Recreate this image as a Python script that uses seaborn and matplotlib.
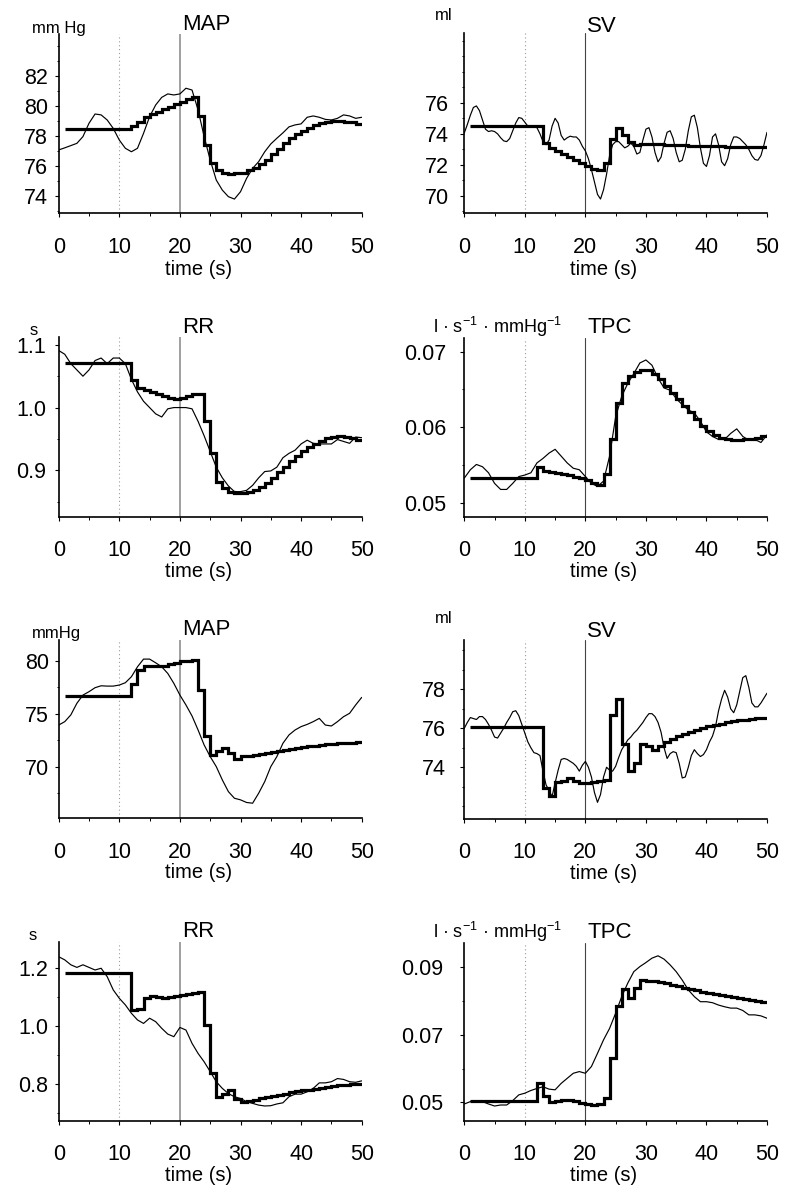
import numpy as np
import pandas as pd
import seaborn as sns
import matplotlib
matplotlib.use("Agg")
import matplotlib.pyplot as plt
from matplotlib.ticker import MultipleLocator, FixedLocator, FormatStrFormatter

# ---- data ----
t_coarse = np.arange(0, 51, 1.0)      # thin (measured) curves, 1 s
t_fine = np.arange(0, 50.5, 0.5)      # thin SV curves, 0.5 s
t_beats = np.arange(1, 51)            # beat-to-beat model output (step line)

map1_meas = [77.06, 77.2, 77.35, 77.5, 77.95, 78.84, 79.46, 79.4, 79.06, 78.5,
             77.72, 77.17, 76.94, 77.17, 78.17, 79.28, 80.06, 80.57, 80.8, 80.73,
             80.8, 81.18, 81.06, 79.73, 77.95, 76.39, 75.05, 74.38, 73.94, 73.78,
             74.27, 75.16, 75.83, 76.28, 76.94, 77.46, 77.84, 78.2, 78.6, 78.73,
             78.8, 79.24, 79.33, 79.24, 79.1, 79.06, 79.17, 79.4, 79.33, 79.17, 79.24]
map1_model = [78.44, 78.44, 78.44, 78.44, 78.44, 78.44, 78.44, 78.44, 78.44, 78.44,
              78.44, 78.66, 78.95, 79.24, 79.46, 79.6, 79.77, 79.95, 80.13, 80.28,
              80.49, 80.62, 79.3, 77.4, 76.2, 75.7, 75.5, 75.45, 75.5, 75.55,
              75.7, 75.85, 76.1, 76.4, 76.8, 77.15, 77.5, 77.85, 78.1, 78.35,
              78.55, 78.7, 78.85, 78.95, 79.0, 79.0, 78.95, 78.9, 78.8]

sv1_meas = [74.06, 74.6, 75.2, 75.7, 75.8, 75.5, 74.9, 74.3, 74.15, 74.2,
            74.15, 74.0, 73.75, 73.55, 73.5, 73.7, 74.2, 74.7, 75.05, 75.0,
            74.75, 74.5, 74.45, 74.45, 74.4, 74.0, 73.5, 73.3, 73.6, 74.5,
            75.0, 74.7, 73.9, 73.6, 73.75, 73.85, 73.8, 73.8, 73.6, 73.2,
            72.9, 72.4, 71.7, 70.9, 70.1, 69.8, 70.4, 71.4, 72.6, 73.3,
            73.5, 73.5, 73.3, 73.1, 73.2, 73.4, 73.2, 72.7, 72.8, 73.6,
            74.3, 74.4, 73.8, 72.8, 72.2, 72.5, 73.4, 74.1, 74.2, 73.7,
            72.8, 72.2, 72.3, 73.0, 74.2, 75.1, 75.2, 74.4, 73.1, 72.1,
            71.9, 72.6, 73.8, 74.0, 73.3, 72.2, 71.95, 72.4, 73.3, 73.8,
            73.8, 73.7, 73.5, 73.3, 73.0, 72.6, 72.35, 72.3, 72.6, 73.3,
            74.1]
sv1_model = [74.53, 74.53, 74.53, 74.53, 74.53, 74.53, 74.53, 74.53, 74.53, 74.53,
             74.53, 74.53, 73.4, 73.1, 72.9, 72.7, 72.5, 72.3, 72.1, 71.95,
             71.75, 71.7, 72.1, 73.7, 74.4, 73.95, 73.5, 73.3, 73.35, 73.35,
             73.35, 73.32, 73.3, 73.3, 73.28, 73.27, 73.25, 73.24, 73.22, 73.2,
             73.2, 73.19, 73.18, 73.17, 73.16, 73.15, 73.15, 73.15, 73.15]

rr1_meas = [1.091, 1.085, 1.07, 1.06, 1.05, 1.06, 1.075, 1.079, 1.07, 1.079,
            1.079, 1.07, 1.045, 1.025, 1.01, 1.0, 0.99, 0.985, 0.998, 1.0,
            1.0, 1.0, 0.998, 0.978, 0.955, 0.93, 0.905, 0.888, 0.875, 0.866,
            0.866, 0.868, 0.876, 0.888, 0.898, 0.899, 0.905, 0.92, 0.927, 0.932,
            0.942, 0.948, 0.943, 0.942, 0.942, 0.942, 0.949, 0.946, 0.943, 0.953, 0.952]
rr1_model = [1.0707, 1.0707, 1.0707, 1.0707, 1.0707, 1.0707, 1.0707, 1.0707, 1.0707, 1.0707,
             1.0707, 1.044, 1.032, 1.028, 1.025, 1.022, 1.019, 1.016, 1.014, 1.015,
             1.018, 1.021, 1.022, 0.978, 0.928, 0.882, 0.871, 0.866, 0.864, 0.864,
             0.866, 0.869, 0.874, 0.880, 0.888, 0.897, 0.906, 0.915, 0.923, 0.930,
             0.937, 0.942, 0.947, 0.951, 0.953, 0.954, 0.953, 0.951, 0.948]

tpc1_meas = [0.0533, 0.0544, 0.0551, 0.0548, 0.054, 0.0526, 0.0518, 0.0518, 0.0526, 0.0535,
             0.0537, 0.054, 0.0553, 0.0559, 0.0566, 0.0571, 0.0562, 0.0553, 0.0546, 0.0544,
             0.0535, 0.0526, 0.0522, 0.0529, 0.0562, 0.0614, 0.0641, 0.0658, 0.0671, 0.0685,
             0.0689, 0.0682, 0.0665, 0.0652, 0.0649, 0.0638, 0.063, 0.0623, 0.0619, 0.0608,
             0.0594, 0.0588, 0.0584, 0.0584, 0.0592, 0.0598, 0.0588, 0.0583, 0.0584, 0.058, 0.059]
tpc1_model = [0.0533, 0.0533, 0.0533, 0.0533, 0.0533, 0.0533, 0.0533, 0.0533, 0.0533, 0.0533,
              0.0533, 0.0547, 0.0542, 0.0541, 0.054, 0.0538, 0.0537, 0.0535, 0.0533, 0.0531,
              0.0527, 0.0524, 0.0538, 0.0585, 0.0632, 0.0658, 0.0668, 0.0673, 0.0676, 0.0676,
              0.0671, 0.0664, 0.0655, 0.0646, 0.0637, 0.0628, 0.062, 0.0611, 0.0602, 0.0595,
              0.059, 0.0586, 0.0584, 0.0583, 0.0583, 0.0584, 0.0585, 0.0586, 0.0588]

map2_meas = [73.94, 74.26, 74.9, 76.0, 76.78, 77.1, 77.48, 77.66, 77.63, 77.63,
             77.73, 77.95, 78.52, 79.46, 80.19, 80.19, 79.84, 79.46, 78.83, 77.89,
             76.78, 75.84, 74.8, 73.47, 72.05, 70.95, 70.0, 68.74, 67.63, 67.0,
             66.85, 66.6, 66.53, 67.48, 68.58, 70.0, 70.95, 72.21, 73.0, 73.47,
             73.79, 74.0, 74.26, 74.57, 73.94, 73.85, 74.26, 74.73, 75.05, 75.84, 76.56]
map2_model = [76.69, 76.69, 76.69, 76.69, 76.69, 76.69, 76.69, 76.69, 76.69, 76.69,
              76.69, 77.8, 79.2, 79.55, 79.5, 79.5, 79.55, 79.7, 79.85, 80.0,
              80.05, 80.1, 77.3, 72.9, 71.1, 71.5, 71.8, 71.3, 70.75, 71.0,
              71.05, 71.1, 71.2, 71.3, 71.4, 71.5, 71.6, 71.68, 71.76, 71.84,
              71.92, 71.98, 72.04, 72.1, 72.15, 72.19, 72.23, 72.26, 72.3]

sv2_meas = [76.0, 76.3, 76.55, 76.5, 76.45, 76.6, 76.6, 76.45, 76.2, 75.9,
            75.55, 75.5, 75.75, 76.0, 76.3, 76.55, 76.85, 76.9, 76.65, 76.2,
            75.75, 75.3, 75.0, 74.75, 74.7, 74.6, 73.8, 73.1, 72.8, 72.5,
            73.2, 73.85, 74.4, 74.45, 74.4, 74.3, 74.2, 74.05, 73.8, 74.1,
            74.3, 74.0, 73.5, 72.7, 72.2, 72.6, 73.5, 74.0, 73.85, 73.8,
            74.05, 74.5, 74.9, 75.15, 75.4, 75.55, 75.75, 75.9, 76.1, 76.3,
            76.55, 76.75, 76.75, 76.6, 76.3, 75.8, 75.0, 74.45, 74.7, 74.8,
            74.75, 74.2, 73.45, 73.5, 74.0, 74.6, 74.9, 74.7, 74.55, 74.65,
            74.9, 75.3, 75.6, 76.1, 76.9, 77.5, 77.95, 77.6, 77.0, 76.8,
            77.2, 77.9, 78.6, 78.7, 78.1, 77.3, 77.1, 77.1, 77.3, 77.55,
            77.8]
sv2_model = [76.05, 76.05, 76.05, 76.05, 76.05, 76.05, 76.05, 76.05, 76.05, 76.05,
             76.05, 76.05, 72.95, 72.55, 73.25, 73.3, 73.45, 73.3, 73.2, 73.2,
             73.25, 73.3, 73.35, 76.7, 77.5, 75.2, 73.8, 74.2, 75.2, 75.1,
             74.9, 75.1, 75.3, 75.45, 75.6, 75.72, 75.83, 75.93, 76.02, 76.1,
             76.17, 76.24, 76.3, 76.35, 76.4, 76.44, 76.48, 76.52, 76.55]

rr2_meas = [1.24, 1.229, 1.212, 1.203, 1.212, 1.203, 1.194, 1.2, 1.171, 1.125,
            1.096, 1.073, 1.044, 1.021, 1.009, 1.027, 1.015, 0.992, 0.972, 0.963,
            0.995, 0.986, 0.94, 0.905, 0.876, 0.842, 0.807, 0.784, 0.766, 0.755,
            0.749, 0.738, 0.732, 0.726, 0.723, 0.724, 0.73, 0.734, 0.755, 0.764,
            0.764, 0.772, 0.784, 0.803, 0.803, 0.807, 0.818, 0.815, 0.807, 0.805, 0.81]
rr2_model = [1.183, 1.183, 1.183, 1.183, 1.183, 1.183, 1.183, 1.183, 1.183, 1.183,
             1.183, 1.055, 1.058, 1.098, 1.104, 1.1, 1.097, 1.1, 1.104, 1.108,
             1.111, 1.116, 1.119, 1.003, 0.836, 0.755, 0.765, 0.777, 0.748, 0.738,
             0.741, 0.745, 0.75, 0.754, 0.758, 0.762, 0.766, 0.77, 0.774, 0.777,
             0.78, 0.783, 0.786, 0.789, 0.791, 0.794, 0.796, 0.798, 0.8]

tpc2_meas = [0.0495, 0.0502, 0.0505, 0.0502, 0.0495, 0.0489, 0.0492, 0.0492, 0.0505, 0.0522,
             0.0527, 0.0535, 0.0541, 0.0546, 0.0539, 0.0537, 0.0556, 0.0571, 0.0586, 0.0591,
             0.0586, 0.0606, 0.0645, 0.0685, 0.0719, 0.0764, 0.0813, 0.0853, 0.0887, 0.0902,
             0.0914, 0.0927, 0.0934, 0.0924, 0.0907, 0.0887, 0.0862, 0.0833, 0.0813, 0.0798,
             0.0798, 0.0795, 0.0788, 0.0783, 0.0779, 0.0779, 0.0772, 0.0759, 0.0759, 0.0756, 0.0749]
tpc2_model = [0.0505, 0.0505, 0.0505, 0.0505, 0.0505, 0.0505, 0.0505, 0.0505, 0.0505, 0.0505,
              0.0505, 0.0557, 0.052, 0.0502, 0.0505, 0.0507, 0.0506, 0.0504, 0.0498, 0.0494,
              0.0493, 0.0494, 0.0513, 0.063, 0.0785, 0.0835, 0.081, 0.084, 0.0863, 0.086,
              0.0858, 0.0855, 0.0852, 0.0848, 0.0844, 0.084, 0.0836, 0.0832, 0.0828, 0.0824,
              0.082, 0.0817, 0.0814, 0.0811, 0.0808, 0.0805, 0.0802, 0.0799, 0.0796]

titles = ["MAP", "SV", "RR", "TPC", "MAP", "SV", "RR", "TPC"]
tpc_unit = r"l · s$^{-1}$ · mmHg$^{-1}$"
units = ["mm Hg", "ml", "s", tpc_unit, "mmHg", "ml", "s", tpc_unit]

map1_yticks = [74, 76, 78, 80, 82]
sv1_yticks = [70, 72, 74, 76]
rr1_yticks = [0.9, 1.0, 1.1]
tpc1_yticks = [0.05, 0.06, 0.07]
map2_yticks = [70, 75, 80]
sv2_yticks = [74, 76, 78]
rr2_yticks = [0.8, 1.0, 1.2]
tpc2_yticks = [0.05, 0.07, 0.09]

# ---- style ----
sns.set_theme(style="ticks")
plt.rcParams["font.family"] = ["Liberation Sans", "DejaVu Sans"]
plt.rcParams["mathtext.fontset"] = "custom"
plt.rcParams["mathtext.rm"] = "Liberation Sans"
plt.rcParams["mathtext.it"] = "Liberation Sans"

W, H = 789, 1189
fig = plt.figure(figsize=(W / 100, H / 100), dpi=100)

def fig_text(x, y, s, **kw):
    fig.text(x / W, 1 - y / H, s, va="baseline", ha="left", **kw)

# panel boxes in pixels: left, top, right, bottom
boxes = [(58.7, 34, 361.7, 213), (464.3, 33, 767, 213),
         (58.7, 336.7, 361.7, 516.7), (464.3, 338, 767, 516.7),
         (58.7, 640, 361.7, 818.3), (464.3, 640, 767, 818.7),
         (58.7, 941.7, 361.7, 1120.7), (464.3, 943.3, 767, 1120.7)]

panels = [
    (t_coarse, map1_meas, map1_model, (72.85, 84.8), map1_yticks, 1, "%d"),
    (t_fine, sv1_meas, sv1_model, (68.9, 80.5), sv1_yticks, 1, "%d"),
    (t_coarse, rr1_meas, rr1_model, (0.826, 1.113), rr1_yticks, 0.05, "%.1f"),
    (t_coarse, tpc1_meas, tpc1_model, (0.0482, 0.0718), tpc1_yticks, 0.005, "%.2f"),
    (t_coarse, map2_meas, map2_model, (65.1, 82.0), map2_yticks, 2.5, "%d"),
    (t_fine, sv2_meas, sv2_model, (71.36, 80.53), sv2_yticks, 1, "%d"),
    (t_coarse, rr2_meas, rr2_model, (0.672, 1.292), rr2_yticks, 0.1, "%.1f"),
    (t_coarse, tpc2_meas, tpc2_model, (0.04455, 0.0971), tpc2_yticks, 0.01, "%.2f"),
]
ypads = [4.6, 8, 5.8, 10, 3.9, 10, 4.6, 12]
xlab_gap = [47, 47, 45, 45, 45, 45, 45, 45]
title_pos = [(181.7, 30), (586.7, 32), (181.7, 333), (588, 333),
             (181.7, 635), (586.7, 636.7), (181.7, 936.7), (588, 938)]
unit_pos = [(32, 33), (435, 20), (30, 335), (433, 333),
            (32, 638), (435, 623), (29, 940), (433, 938)]
unit_size = [12, 12, 12, 13, 12, 12, 12, 13]

for i, (tt, meas, model, ylim, yticks, minor, fmt) in enumerate(panels):
    l, t, r, b = boxes[i]
    ax = fig.add_axes([l / W, 1 - b / H, (r - l) / W, (b - t) / H])
    right_col = i % 2 == 1

    ax.axvline(10, color="#9a9a9a", lw=0.8, ls=(0, (1, 2.5)), zorder=1)
    if right_col:
        ax.axvline(20, color="#444444", lw=0.8, zorder=1)
    else:
        ax.axvline(20, color="#a0a0a0", lw=1.4, zorder=1)

    df_meas = pd.DataFrame({"time": tt, "value": meas})
    sns.lineplot(data=df_meas, x="time", y="value", color="black", lw=0.85,
                 estimator=None, ax=ax, zorder=3)
    df_model = pd.DataFrame({"time": t_beats, "value": model + [model[-1]]})
    sns.lineplot(data=df_model, x="time", y="value", color="black", lw=2.3,
                 drawstyle="steps-post", estimator=None, ax=ax, zorder=4,
                 solid_joinstyle="miter", solid_capstyle="butt")

    ax.set_xlim(0, 50)
    ax.set_ylim(*ylim)
    ax.xaxis.set_major_locator(MultipleLocator(10))
    ax.xaxis.set_minor_locator(MultipleLocator(5))
    ax.yaxis.set_major_locator(FixedLocator(yticks))
    ax.yaxis.set_minor_locator(MultipleLocator(minor))
    ax.yaxis.set_major_formatter(FormatStrFormatter(fmt))
    ax.tick_params(axis="both", which="major", direction="out", length=3,
                   width=0.8, color="black", labelsize=15.5, labelcolor="black")
    ax.tick_params(axis="both", which="minor", direction="out", length=1.8,
                   width=0.7, color="black")
    ax.tick_params(axis="x", which="major", pad=14)
    ax.tick_params(axis="y", which="major", pad=ypads[i])

    sns.despine(ax=ax)
    for side in ("left", "bottom"):
        ax.spines[side].set_linewidth(1.2)
        ax.spines[side].set_color("black")

    ax.set_ylabel("")
    ax.set_xlabel("time (s)", fontsize=14.5, color="black")
    ax.xaxis.set_label_coords(0.46, -xlab_gap[i] / (b - t))
    ax.patch.set_alpha(0)

    fig_text(*title_pos[i], titles[i], fontsize=16, color="black")
    fig_text(*unit_pos[i], units[i], fontsize=unit_size[i], color="black")

fig.savefig("out.png", dpi=100, facecolor="white")
